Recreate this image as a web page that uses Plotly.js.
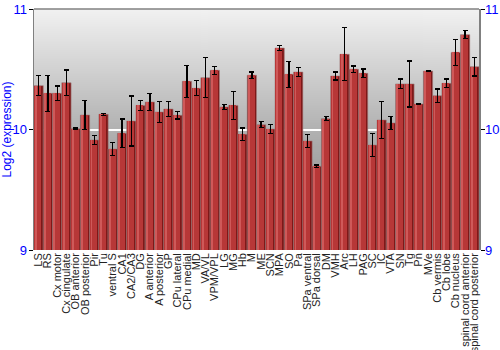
<!DOCTYPE html>
<html><head><meta charset="utf-8">
<script src="https://cdn.plot.ly/plotly-3.0.1.min.js"></script>
<style>body{margin:0;padding:0;background:#fff}#chart{width:500px;height:350px}</style>
</head><body><div id="chart"></div>
<script>
var regions = ["LS","RS","Cx motor","Cx cingulate","OB anterior","OB posterior","Pir","Tu","ventral S","CA1","CA2/CA3","DG","A anterior","A posterior","GP","CPu lateral","CPu medial","MD","VA/VL","VPM/VPL","LG","MG","Hb","M","ME","SCN","MPA","SO","Pa","SPa ventral","SPa dorsal","DM","VMH","Arc","LH","PAG","SC","IC","VTA","SN","Tg","Pn","MVe","Cb vermis","Cb lobe","Cb nucleus","spinal cord anterior","spinal cord posterior"];
var expression = [10.364,10.30,10.30,10.388,10.007,10.12,9.913,10.126,9.838,9.968,10.07,10.20,10.228,10.145,10.17,10.118,10.40,10.342,10.43,10.491,10.187,10.20,9.96,10.45,10.04,10.004,10.676,10.458,10.477,9.905,9.695,10.09,10.444,10.624,10.50,10.466,9.871,10.079,10.054,10.378,10.378,10.212,10.485,10.28,10.383,10.64,10.787,10.521];
var errors = [0.083,0.15,0.06,0.106,0.005,0.12,0.035,0.008,0.055,0.118,0.207,0.04,0.07,0.087,0.06,0.032,0.133,0.062,0.167,0.033,0.02,0.116,0.053,0.026,0.026,0.04,0.022,0.108,0.037,0.055,0.011,0.018,0.033,0.22,0.026,0.037,0.094,0.155,0.053,0.04,0.19,0.005,0.005,0.057,0.036,0.108,0.033,0.077];
var yTicks = [9,10,11];

var n = regions.length;
function fill(v){var a=[];for(var i=0;i<n;i++)a.push(v);return a;}

var traces = [
  {type:'bar', x:regions, y:expression, width:fill(1.0), marker:{color:'#7e1818', line:{color:'#a08080', width:0.6}}, hoverinfo:'skip'},
  {type:'bar', x:regions, y:expression, width:fill(0.76), offset:fill(-0.46), marker:{color:'#b73737', line:{width:0}}, hoverinfo:'skip'},
  {type:'bar', x:regions, y:expression, width:fill(0.2), offset:fill(-0.4), marker:{color:'#cf5959', line:{width:0}}, hoverinfo:'skip'},
  {type:'bar', x:regions, y:expression, yaxis:'y2', width:fill(1.0), marker:{color:'rgba(0,0,0,0)', line:{width:0}},
   error_y:{type:'data', array:errors, visible:true, color:'#000', thickness:1.3, width:2.5}}
];

var cv = document.createElement('canvas'); cv.width = 4; cv.height = 256;
var ctx = cv.getContext('2d');
var g = ctx.createLinearGradient(0,0,0,256);
g.addColorStop(0,'#f2f2f2'); g.addColorStop(0.5,'#b2b2b2'); g.addColorStop(1,'#808080');
ctx.fillStyle = g; ctx.fillRect(0,0,4,256);
var bgUrl = cv.toDataURL('image/png');

var layout = {
  width:500, height:350,
  margin:{l:34, r:21, t:9, b:100},
  paper_bgcolor:'#ffffff', plot_bgcolor:'rgba(0,0,0,0)',
  barmode:'overlay', bargap:0,
  showlegend:false,
  font:{family:'Liberation Sans, Arial, sans-serif'},
  xaxis:{type:'category', range:[-0.5, n-0.5], tickmode:'array', tickvals:regions, ticktext:regions, tickangle:-90, tickfont:{size:11, color:'#222'}, showgrid:false, showline:false, ticks:'', zeroline:false, fixedrange:true, automargin:false},
  yaxis:{range:[9,11], tickvals:yTicks, tickfont:{size:13, color:'#0000ff'}, ticks:'outside', ticklen:4, tickcolor:'#000', ticklabelstandoff:-1,
    showline:true, linecolor:'#808080', linewidth:1.5, showgrid:true, gridcolor:'#ffffff', gridwidth:2, zeroline:false, automargin:false,
    title:{text:'Log2 (expression)', font:{size:12, color:'#0000ff'}, standoff:6}},
  yaxis2:{range:[9,11], overlaying:'y', side:'right', tickvals:yTicks, tickfont:{size:13, color:'#0000ff'}, ticks:'outside', ticklen:4, tickcolor:'#000', ticklabelstandoff:-2,
    showline:true, linecolor:'#808080', linewidth:1.5, showgrid:false, zeroline:false, automargin:false},
  images:[{source:bgUrl, xref:'paper', yref:'paper', x:0, y:1, sizex:1, sizey:1, sizing:'stretch', layer:'below', xanchor:'left', yanchor:'top'}],
  shapes:[{type:'line', xref:'paper', yref:'paper', x0:0, x1:1, y0:1, y1:1, line:{color:'#808080', width:1.5}}]
};
Plotly.newPlot('chart', traces, layout, {staticPlot:true, displayModeBar:false});
</script></body></html>
